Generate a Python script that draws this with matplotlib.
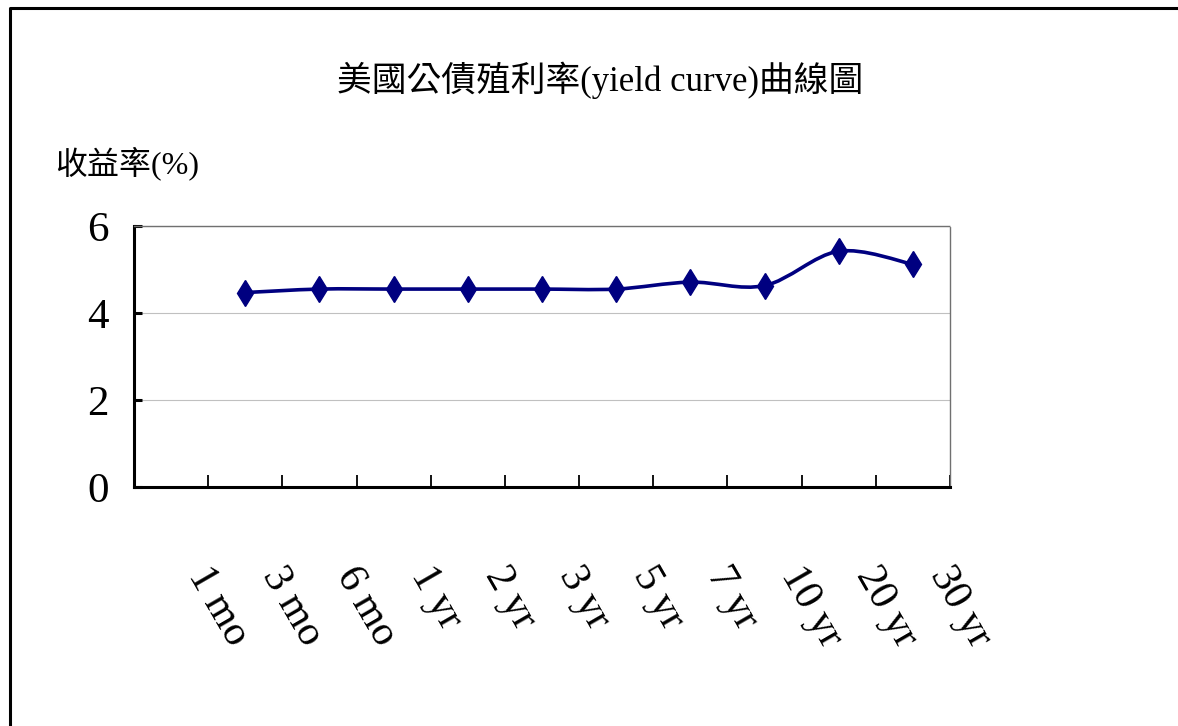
import matplotlib.pyplot as plt
import numpy as np
from matplotlib.path import Path
from matplotlib.patches import PathPatch
from matplotlib.lines import Line2D

plt.rcParams['font.family'] = ['Liberation Serif', 'Noto Sans CJK TC']

# US Treasury yields by tenor (1 mo has no quote)
tenors = ['1 mo', '3 mo', '6 mo', '1 yr', '2 yr', '3 yr', '5 yr', '7 yr', '10 yr', '20 yr', '30 yr']
yields = [np.nan, 4.47, 4.55, 4.55, 4.55, 4.55, 4.55, 4.71, 4.63, 5.42, 5.12]
yticks = [0, 2, 4, 6]

title = '美國公債殖利率(yield curve)曲線圖'
ylabel = '收益率(%)'
navy = '#000080'

fig = plt.figure(figsize=(11.78, 7.26), dpi=100)
ax = fig.add_axes([134 / 1178, 1 - 487 / 726, 816 / 1178, 261 / 726])

pos = np.arange(len(tenors)) + 0.5
vals = np.array(yields)
ok = ~np.isnan(vals)
px, py = pos[ok], vals[ok]

# smoothed line: cubic bezier segments through the points
pts = np.column_stack([px, py])
ext = np.vstack([pts[0], pts, pts[-1]])
verts = [tuple(pts[0])]
codes = [Path.MOVETO]
for i in range(len(pts) - 1):
    p0, p1, p2, p3 = ext[i], ext[i + 1], ext[i + 2], ext[i + 3]
    c1 = p1 + (p2 - p0) / 6
    c2 = p2 - (p3 - p1) / 6
    verts += [tuple(c1), tuple(c2), tuple(p2)]
    codes += [Path.CURVE4] * 3
ax.add_patch(PathPatch(Path(verts, codes), facecolor='none', edgecolor=navy,
                       lw=2.6, zorder=3))
ax.plot(px, py, ls='none', marker='d', ms=13.5, color=navy, zorder=4)

ax.set_xlim(0, len(tenors))
ax.set_ylim(0, 6)
ax.set_xticks(np.arange(len(tenors) + 1))
ax.set_xticklabels([])
ax.set_yticks(yticks)
ax.tick_params(axis='x', direction='in', length=9, width=1.3)
ax.tick_params(axis='y', direction='in', length=6, width=2.2, labelsize=31, pad=18)

ax.grid(axis='y', color='#c0c0c0', lw=0.8)
ax.set_axisbelow(True)
for side in ['left', 'bottom']:
    ax.spines[side].set_linewidth(2.2)
for side in ['top', 'right']:
    ax.spines[side].set_color('#707070')
    ax.spines[side].set_linewidth(1)
    ax.spines[side].set_linestyle((0, (1, 1)))

for p, lab in zip(pos, tenors):
    ax.text(p + 0.12, -0.28, lab, transform=ax.get_xaxis_transform(),
            rotation=-60, ha='left', va='top', fontsize=30)

fig.text(600 / 1178, 1 - 80 / 726, title, ha='center', va='center', fontsize=25)
fig.text(55 / 1178, 1 - 163 / 726, ylabel, ha='left', va='center', fontsize=23)

# chart frame
fig.add_artist(Line2D([10 / 1178, 10 / 1178, 1], [0, 1 - 8 / 726, 1 - 8 / 726],
                      transform=fig.transFigure, color='black', lw=2.2))

fig.savefig('out.png', dpi=100, facecolor='white')
